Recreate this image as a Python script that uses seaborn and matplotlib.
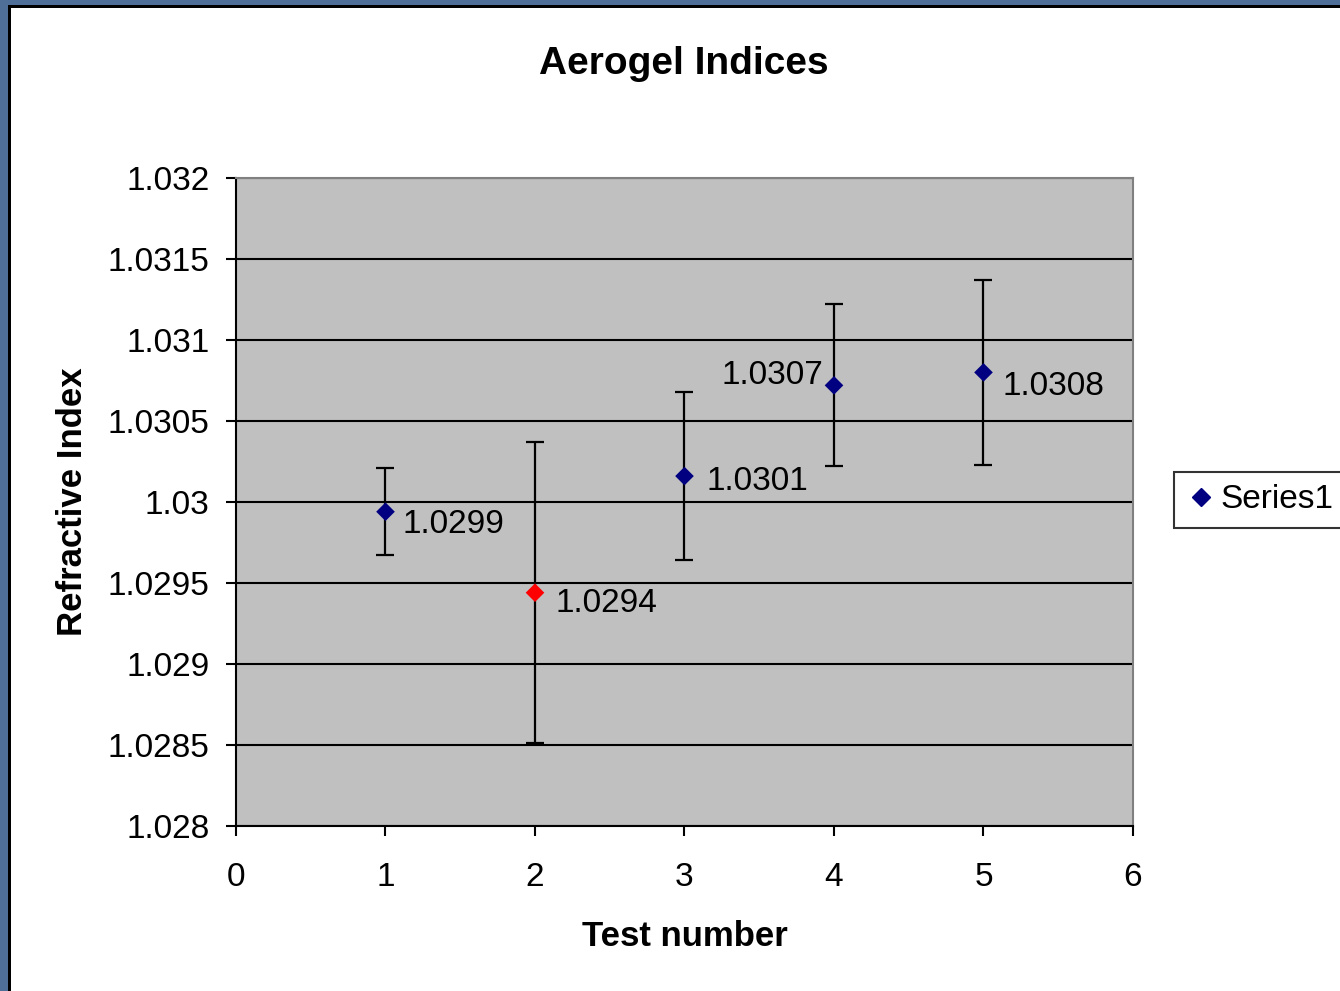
import matplotlib
matplotlib.use("Agg")
import matplotlib.pyplot as plt
from matplotlib.lines import Line2D
from matplotlib.patches import Rectangle
import seaborn as sns
import pandas as pd

plt.rcParams['font.family'] = ['Liberation Sans', 'DejaVu Sans']

# data
test_number = [1, 2, 3, 4, 5]
refractive_index = [1.02994, 1.02944, 1.03016, 1.03072, 1.03080]
index_error = [0.00027, 0.00093, 0.00052, 0.00050, 0.00057]
point_labels = ["1.0299", "1.0294", "1.0301", "1.0307", "1.0308"]
point_group = ["normal", "outlier", "normal", "normal", "normal"]

x_ticks = [0, 1, 2, 3, 4, 5, 6]
y_ticks = [1.028, 1.0285, 1.029, 1.0295, 1.03, 1.0305, 1.031, 1.0315, 1.032]
y_tick_labels = ["1.028", "1.0285", "1.029", "1.0295", "1.03",
                 "1.0305", "1.031", "1.0315", "1.032"]

df = pd.DataFrame({"test": test_number, "index": refractive_index,
                   "err": index_error, "group": point_group})

fig = plt.figure(figsize=(13.4, 9.91), dpi=100)
fig.patch.set_facecolor("#4f6f98")

# white slide panel with black edge
fig.patches.append(Rectangle((8 / 1340, -0.05), 1.1, (991 - 5) / 991 + 0.05,
                             transform=fig.transFigure, facecolor="black",
                             edgecolor="none", zorder=-3))
fig.patches.append(Rectangle((11 / 1340, -0.05), 1.1, (991 - 8) / 991 + 0.05,
                             transform=fig.transFigure, facecolor="white",
                             edgecolor="none", zorder=-2))

ax = fig.add_axes([236 / 1340, 165 / 991, 897 / 1340, 648 / 991])
ax.set_facecolor("#c0c0c0")

# error bars
ax.errorbar(df["test"], df["index"], yerr=df["err"], fmt="none",
            ecolor="black", elinewidth=1.6, capsize=6.5, capthick=1.6, zorder=2)

# points
sns.scatterplot(data=df, x="test", y="index", hue="group",
                palette={"normal": "#000080", "outlier": "#ff0000"},
                marker="D", s=90, edgecolor="none", legend=False, ax=ax, zorder=3)

# value labels
label_offsets = [(12, -9), (15, -8), (16, -4), (-8, 7), (14, -10)]
label_align = ["left", "left", "left", "right", "left"]
for xv, yv, txt, off, ha in zip(test_number, refractive_index, point_labels,
                                label_offsets, label_align):
    ax.annotate(txt, (xv, yv), xytext=off, textcoords="offset points",
                ha=ha, va="center", fontsize=24, color="black", zorder=4)

ax.set_xlim(0, 6)
ax.set_ylim(1.028, 1.032)
ax.set_xticks(x_ticks)
ax.set_yticks(y_ticks)
ax.set_yticklabels(y_tick_labels)

ax.set_axisbelow(True)
ax.yaxis.grid(True, color="black", linewidth=1.5)
ax.xaxis.grid(False)

ax.tick_params(axis="y", direction="out", length=7, width=1.5, pad=12,
               labelsize=24, left=True, right=False)
ax.tick_params(axis="x", direction="out", length=7, width=1.5, pad=19,
               labelsize=24, bottom=True, top=False)

for side in ["left", "bottom"]:
    ax.spines[side].set_color("black")
    ax.spines[side].set_linewidth(1.5)
for side in ["top", "right"]:
    ax.spines[side].set_color("#808080")
    ax.spines[side].set_linewidth(1.5)

ax.set_xlabel("Test number", fontsize=25, fontweight="bold", va="center")
ax.xaxis.set_label_coords(0.5, -0.171)
ax.set_ylabel("Refractive Index", fontsize=25, fontweight="bold", va="center")
ax.yaxis.set_label_coords(-0.182, 0.5)

fig.text(684 / 1340, 1 - 64 / 991, "Aerogel Indices", fontsize=28,
         fontweight="bold", ha="center", va="center")

handle = Line2D([], [], marker="D", color="#000080", linestyle="none",
                markersize=9.5)
leg = fig.legend([handle], ["Series1"], loc="center left",
                 bbox_to_anchor=(1174 / 1340, 1 - 500 / 991),
                 bbox_transform=fig.transFigure, borderaxespad=0,
                 fontsize=24, frameon=True, fancybox=False, handlelength=0.85,
                 handletextpad=0.15, borderpad=0.38)
leg.get_frame().set_edgecolor("black")
leg.get_frame().set_linewidth(1.5)

fig.savefig("out.png", dpi=100, facecolor=fig.get_facecolor())
